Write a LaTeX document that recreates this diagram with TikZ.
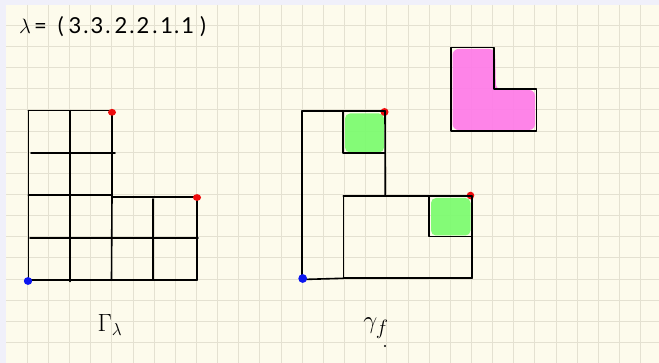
\documentclass[tikz,border=0pt]{standalone}
\usepackage{fontspec}
\setmainfont{Lato}
\definecolor{paper}{RGB}{253,251,236}
\definecolor{margin}{RGB}{240,240,250}
\definecolor{gridline}{RGB}{228,225,209}
\definecolor{cellgreen}{RGB}{122,252,110}
\definecolor{cellpink}{RGB}{255,122,232}
\definecolor{dotred}{RGB}{238,12,12}
\definecolor{dotblue}{RGB}{12,22,240}
\begin{document}
\begin{tikzpicture}[x=1pt,y=-1pt,
  ink/.style={line width=1.6pt, line cap=round, line join=round, black},
  paperline/.style={gridline, line width=1pt},
  reddot/.style={fill=dotred},
  bluedot/.style={fill=dotblue},
  greencell/.style={fill=cellgreen, fill opacity=0.92, rounded corners=5pt},
  pinkcell/.style={fill=cellpink, fill opacity=0.92, rounded corners=6pt}]
\useasboundingbox (0,0) rectangle (659,363);

% squared paper
\fill[margin] (0,0) rectangle (659,363);
\fill[paper] (6,5) rectangle (659,363);
\begin{scope}
  \clip (6,5) rectangle (659,363);
  \foreach \k in {0,...,30}
    \draw[paperline] ({27.3+21.15*\k},5) -- ({27.3+21.15*\k},363);
  \foreach \k in {0,...,15}
    \draw[paperline] (6,{25.3+21.15*\k}) -- (659,{25.3+21.15*\k});
\end{scope}

% partition
\node[anchor=base west, inner sep=0pt, font=\fontsize{22}{26}\selectfont] (lam) at (19,33.5)
  {$\lambda$\hspace{3pt}=\hspace{11pt}(\hspace{5pt}3\hspace{2pt}.\hspace{2pt}3\hspace{2pt}.\hspace{4pt}2\hspace{2pt}.\hspace{2pt}2\hspace{3pt}.\hspace{3pt}1\hspace{1pt}.\hspace{2pt}1\hspace{6pt})};

% ---- Young diagram Gamma_lambda ----
\draw[ink] (28.3,110.7) -- (28.3,280.5);
\draw[ink] (28.3,110.7) -- (112,110.7);
\draw[ink] (70,110.7) -- (70,281.5);
\draw[ink] (112,111.5) -- (112,195) -- (111.5,280);
\draw[ink] (31,153.3) -- (115,153.3);
\draw[ink] (28.3,195) -- (112,195);
\draw[ink] (112,197.3) -- (197,197.3);
\draw[ink] (152.7,199) -- (152.7,280);
\draw[ink] (197,197.3) -- (197,280);
\draw[ink] (30,238.3) -- (198,238.3);
\draw[ink] (28.3,280) -- (197,280);
\fill[reddot] (112,112.3) ellipse [x radius=4pt, y radius=3.4pt];
\fill[reddot] (197,197.5) ellipse [x radius=4pt, y radius=3.4pt];
\fill[bluedot] (28,281) ellipse [x radius=4.2pt, y radius=3.9pt];
\node[inner sep=0pt, font=\fontsize{26}{30}\selectfont] (gl) at (110,325) {$\Gamma_{\lambda}$};

% ---- path gamma_f ----
\fill[greencell] (345,113.5) rectangle (384,152.5);
\fill[greencell] (431,198) rectangle (470.5,235.5);
\fill[reddot] (384.5,112) circle [radius=4pt];
\fill[reddot] (470.5,195.5) circle [radius=3.8pt];
\draw[ink] (302,111) -- (302,279);
\draw[ink] (302,111) -- (385,111);
\draw[ink] (385,111) -- (385.3,196);
\draw[ink] (342.7,111) -- (342.7,153.3) -- (385,153.3);
\draw[ink] (343.3,196) -- (471.7,196);
\draw[ink] (343.3,196) -- (343.3,278.3);
\draw[ink] (429,196) -- (429,236.7) -- (471.7,236.7);
\draw[ink] (471.7,196) -- (471.7,278.3);
\draw[ink] (343.3,278.3) -- (471.7,278.3);
\draw[ink] (302,279.5) -- (343.3,278.3);
\fill[bluedot] (302.7,278.5) circle [radius=4.4pt];
\node[inner sep=0pt, font=\fontsize{29}{34}\selectfont] (gf) at (376,328) {$\gamma_{f}$};
\fill (385,346) circle [radius=1.2pt];

% ---- pink shape ----
\fill[pinkcell] (452.5,49) -- (495,49) -- (496,90) -- (535,90) -- (535,130) -- (452.5,130) -- cycle;
\draw[ink] (451,47.7) -- (494,47.7) -- (494,89) -- (536.3,89) -- (536.3,131) -- (451,131) -- cycle;
\end{tikzpicture}
\end{document}
